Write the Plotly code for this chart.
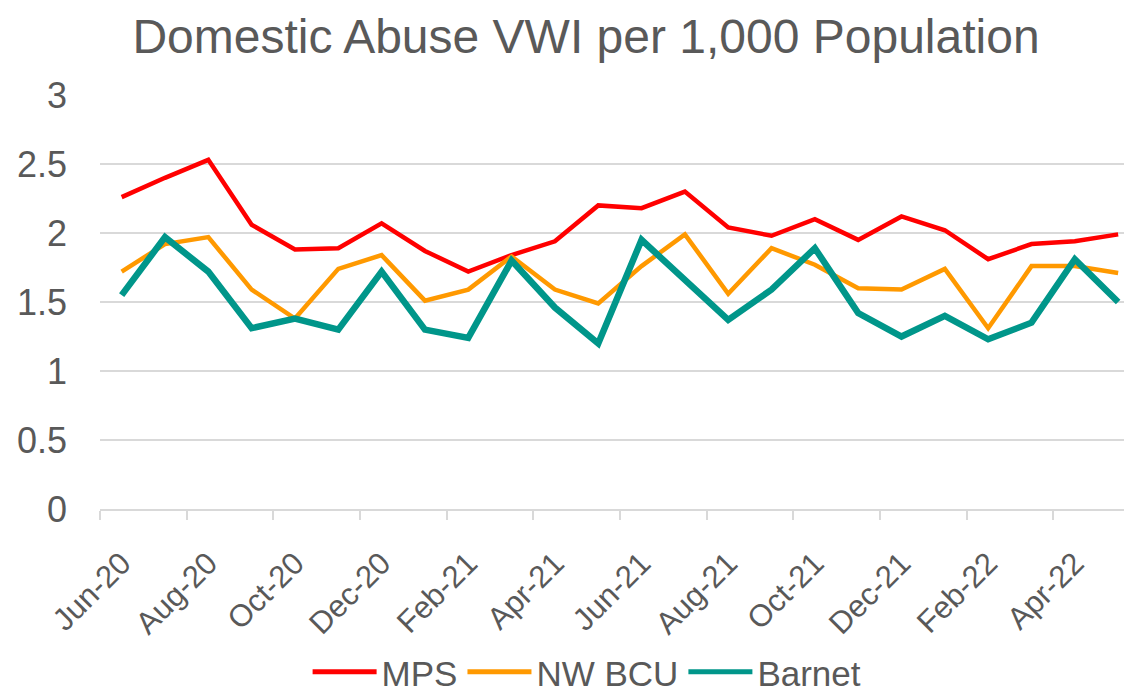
import plotly.graph_objects as go

months = ["Jun-20","Jul-20","Aug-20","Sep-20","Oct-20","Nov-20","Dec-20","Jan-21","Feb-21","Mar-21",
          "Apr-21","May-21","Jun-21","Jul-21","Aug-21","Sep-21","Oct-21","Nov-21","Dec-21","Jan-22",
          "Feb-22","Mar-22","Apr-22","May-22"]
mps = [2.26,2.40,2.53,2.06,1.88,1.89,2.07,1.87,1.72,1.84,1.94,2.20,2.18,2.30,2.04,1.98,2.10,1.95,2.12,2.02,1.81,1.92,1.94,1.99]
nw_bcu = [1.72,1.92,1.97,1.59,1.38,1.74,1.84,1.51,1.59,1.83,1.59,1.49,1.76,1.99,1.56,1.89,1.77,1.60,1.59,1.74,1.31,1.76,1.76,1.71]
barnet = [1.55,1.97,1.72,1.31,1.38,1.30,1.72,1.30,1.24,1.80,1.46,1.20,1.95,1.66,1.37,1.59,1.89,1.42,1.25,1.40,1.23,1.35,1.81,1.50]

x = list(range(len(months)))
tickvals = x[::2]
ticktext = months[::2]

fig = go.Figure()
fig.add_trace(go.Scatter(x=x, y=mps, name="MPS", mode="lines",
                         line=dict(color="#FF0000", width=4.5)))
fig.add_trace(go.Scatter(x=x, y=nw_bcu, name="NW BCU", mode="lines",
                         line=dict(color="#FF9900", width=4.5)))
fig.add_trace(go.Scatter(x=x, y=barnet, name="Barnet", mode="lines",
                         line=dict(color="#00968A", width=6.5)))

W, H = 1124, 685
font_family = "Liberation Sans, Arial, sans-serif"
fig.update_layout(
    width=W, height=H,
    paper_bgcolor="white", plot_bgcolor="white",
    margin=dict(l=92, r=0, t=87, b=184, autoexpand=False),
    font=dict(family=font_family, color="#595959"),
    title=dict(text="Domestic Abuse VWI per 1,000 Population",
               x=578 / W, xanchor="center", y=1 - 28 / H, yanchor="middle",
               font=dict(size=48, color="#595959", family=font_family)),
    showlegend=True,
    legend=dict(orientation="h", x=0.472, xanchor="center", y=-0.394, yanchor="middle",
                font=dict(size=35, color="#595959"), itemwidth=64, tracegroupgap=0,
                itemsizing="constant"),
    xaxis=dict(range=[-0.5, 23.32], tickmode="array", tickvals=tickvals, ticktext=ticktext,
               tickangle=-45, tickfont=dict(size=31, color="#595959"), automargin=False,
               showgrid=False, zeroline=False, showline=True, linecolor="#D9D9D9", linewidth=1.5,
               ticks="", ticklabelstandoff=22,
               minor=dict(tickmode="array", tickvals=[v - 0.5 for v in tickvals], ticks="outside",
                          ticklen=9, tickcolor="#D9D9D9", tickwidth=1.5, showgrid=False)),
    yaxis=dict(range=[0, 3], tickmode="array", tickvals=[0,0.5,1,1.5,2,2.5,3],
               ticktext=["0","0.5","1","1.5","2","2.5","3"],
               tickfont=dict(size=36, color="#595959"), automargin=False,
               showgrid=True, gridcolor="#D9D9D9", gridwidth=1.5, zeroline=False,
               showline=False, ticks="", ticklabelstandoff=32),
)
fig.write_html("out.html")
